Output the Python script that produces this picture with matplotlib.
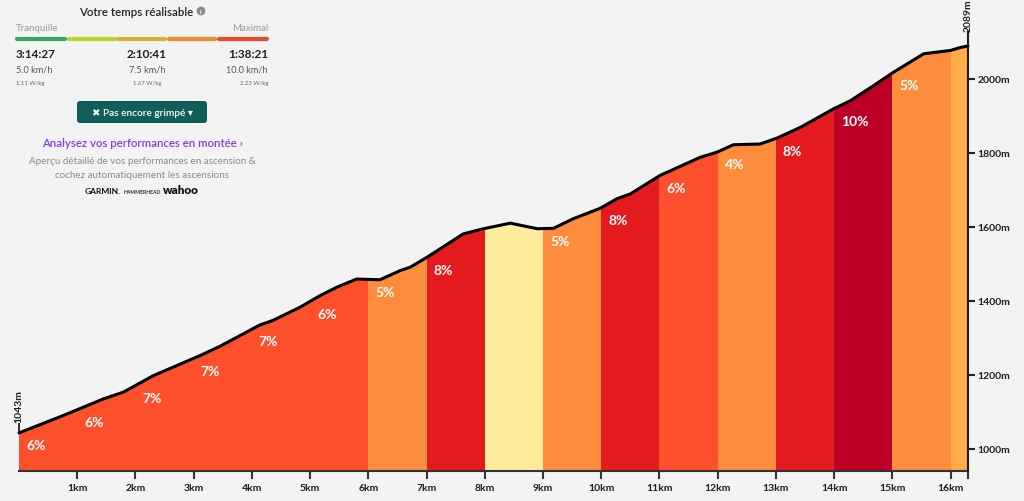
import matplotlib
matplotlib.use('Agg')
import matplotlib.pyplot as plt
from matplotlib.lines import Line2D
from matplotlib.patches import FancyBboxPatch
from matplotlib.transforms import IdentityTransform
import numpy as np

plt.rcParams['font.family'] = ['Lato', 'DejaVu Sans']

# profile (distance in km, elevation in m)
dist_km = [0.0, 0.76, 1.45, 1.79, 2.31, 3.11, 3.45, 4.14, 4.36, 4.83, 5.17,
           5.46, 5.80, 6.20, 6.55, 6.72, 7.01, 7.63, 7.98, 8.44, 8.90, 9.18,
           9.52, 9.98, 10.27, 10.50, 11.01, 11.70, 11.99, 12.27, 12.73, 13.02,
           13.42, 13.99, 14.28, 14.68, 15.02, 15.54, 16.0, 16.17, 16.3]
elev_m = [1043, 1090, 1135, 1153, 1198, 1252, 1277, 1335, 1347, 1383, 1414,
          1437, 1459, 1457, 1482, 1491, 1518, 1581, 1595, 1610, 1595, 1596,
          1622, 1650, 1676, 1689, 1739, 1788, 1802, 1822, 1824, 1840,
          1869, 1919, 1941, 1982, 2018, 2068, 2077, 2085, 2089]

# one entry per km segment (last one is the 300 m stub)
grades = [6, 6, 7, 7, 7, 6, 5, 8, None, 5, 8, 6, 4, 8, 10, 5, None]
seg_colors = ['#fc502c', '#fc502c', '#fc502c', '#fc502c', '#fc502c', '#fc502c',
              '#fd8c3c', '#e31b1e', '#feeb9c', '#fd8c3c', '#e31b1e', '#fc502c',
              '#fd8c3c', '#e31b1e', '#bd0026', '#fd8c3c', '#feab4a']

km_ticks = list(range(1, 17))
elev_ticks = [1000, 1200, 1400, 1600, 1800, 2000]

# rider panel
panel_times = ['3:14:27', '2:10:41', '1:38:21']
panel_speeds = ['5.0 km/h', '7.5 km/h', '10.0 km/h']
panel_power = ['1.11 W/kg', '1.67 W/kg', '2.23 W/kg']
effort_colors = ['#3aa65c', '#b9d42a', '#d9b12c', '#f08a2c', '#ec4b25']

BG = '#f3f3f3'
DARK = '#1e1e1e'
W, H = 1024, 502

fig = plt.figure(figsize=(W / 100, H / 100), dpi=100, facecolor=BG)
ax = fig.add_axes([19 / W, 30 / H, 949 / W, 472 / H])
ax.set_facecolor(BG)

x = np.array(dist_km)
y = np.array(elev_m)
y0 = 940
ax.set_xlim(0, x[-1])
ax.set_ylim(y0, 2216)

# coloured km slices clipped to the profile
area = ax.fill_between(x, y0, y, color='none', lw=0)
clip = area.get_paths()[0]
edges = list(range(len(grades))) + [x[-1]]
for i, c in enumerate(seg_colors):
    span = ax.axvspan(edges[i], edges[i + 1], color=c, lw=0, zorder=2)
    span.set_clip_path(clip, ax.transData)

ax.plot(x, y, color='black', lw=2.2, zorder=5, clip_on=False,
        solid_capstyle='round', solid_joinstyle='round')

for i, g in enumerate(grades):
    if g is None:
        continue
    ax.text(i + 0.12, np.interp(i, x, y) - 33, f'{g}%', color='white',
            fontsize=10, fontweight='bold', ha='left', va='center', zorder=6)

# start / summit markers
ax.vlines(x[0], y[0], y[0] + 27, color=DARK, lw=1.3, zorder=6, clip_on=False)
ax.text(x[0], y[0] + 30, f'{y[0]}m', rotation=90, ha='center', va='bottom',
        fontsize=7.5, fontweight='bold', color=DARK)
ax.text(x[-1] + 0.01, y[-1] + 40, f'{y[-1]}m', rotation=90, ha='center',
        va='bottom', fontsize=7.5, fontweight='bold', color=DARK, clip_on=False)

# axes styling
for s in ['left', 'top']:
    ax.spines[s].set_visible(False)
ax.spines['bottom'].set_color('#333333')
ax.spines['bottom'].set_linewidth(1.5)
ax.spines['right'].set_color(DARK)
ax.spines['right'].set_linewidth(1.5)
ax.spines['right'].set_bounds(y0, y[-1] + 38)
ax.spines['right'].set_zorder(7)

ax.set_xticks(km_ticks)
ax.set_xticklabels([f'{k}km' for k in km_ticks])
ax.set_xticks([x[-1]], minor=True)
ax.tick_params(axis='x', which='both', direction='out', length=6, width=1.5,
               color='#333333', pad=3, labelsize=7.5, labelcolor=DARK)
ax.yaxis.tick_right()
ax.set_yticks(elev_ticks)
ax.set_yticklabels([f'{e}m' for e in elev_ticks])
ax.tick_params(axis='y', direction='out', length=5, width=1.5, color=DARK,
               pad=2, labelsize=7.5, labelcolor=DARK)
for lab in ax.get_xticklabels() + ax.get_yticklabels():
    lab.set_fontweight('bold')


# ---- top-left panel (pixel coords from the top-left corner) ----
def ftext(px, py, s, **kw):
    fig.text(px / W, 1 - py / H, s, **kw)


ftext(136, 12, 'Votre temps réalisable', ha='center', va='center',
      fontsize=8.3, fontweight='semibold', color='#222222')
ftext(201, 12, 'i', ha='center', va='center', fontsize=4.5, fontweight='bold',
      color='white', bbox=dict(boxstyle='circle,pad=0.3', fc='#8a8a8a', ec='none'))
ftext(16, 29, 'Tranquille', ha='left', va='center', fontsize=7.0, color='#9a9a9a')
ftext(268, 29, 'Maximal', ha='right', va='center', fontsize=7.0, color='#9a9a9a')

bar_x = [(17, 65), (69, 115), (118, 165), (169, 215), (219, 267)]
for (a, b), c in zip(bar_x, effort_colors):
    fig.add_artist(Line2D([a / W, b / W], [1 - 40 / H] * 2, lw=3, color=c,
                          solid_capstyle='round', transform=fig.transFigure))

cols = [(16, 'left'), (147, 'center'), (268, 'right')]
for (px, ha), t, s, p in zip(cols, panel_times, panel_speeds, panel_power):
    ftext(px, 54, t, ha=ha, va='center', fontsize=8.5, fontweight='bold', color='#222222')
    ftext(px, 70, s, ha=ha, va='center', fontsize=6.6, color='#555555')
    ftext(px, 84, p, ha=ha, va='center', fontsize=4.3, color='#666666')

btn = FancyBboxPatch((77, H - 124), 130, 22, boxstyle='round,pad=0,rounding_size=3',
                     fc='#0f5e57', ec='none', transform=IdentityTransform())
fig.add_artist(btn)
ftext(142, 113, '✖ Pas encore grimpé ▾', ha='center', va='center', fontsize=7.3,
      fontweight='semibold', color='white')

ftext(142, 144, 'Analysez vos performances en montée ›', ha='center', va='center',
      fontsize=8.2, fontweight='semibold', color='#7d3cf0')
ftext(142, 162, 'Aperçu détaillé de vos performances en ascension &', ha='center',
      va='center', fontsize=7.1, color='#8a8a8a')
ftext(142, 175, 'cochez automatiquement les ascensions', ha='center', va='center',
      fontsize=7.1, color='#8a8a8a')
ftext(103, 192, 'GARMIN.', ha='center', va='center', fontsize=6,
      fontweight='bold', color='#111111')
ftext(142, 192, 'HAMMERHEAD', ha='center', va='center', fontsize=3.7,
      fontweight='bold', color='#333333')
ftext(181, 191, 'wahoo', ha='center', va='center', fontsize=8.5,
      fontweight='heavy', color='#111111')

fig.savefig('out.png', dpi=100, facecolor=BG)
